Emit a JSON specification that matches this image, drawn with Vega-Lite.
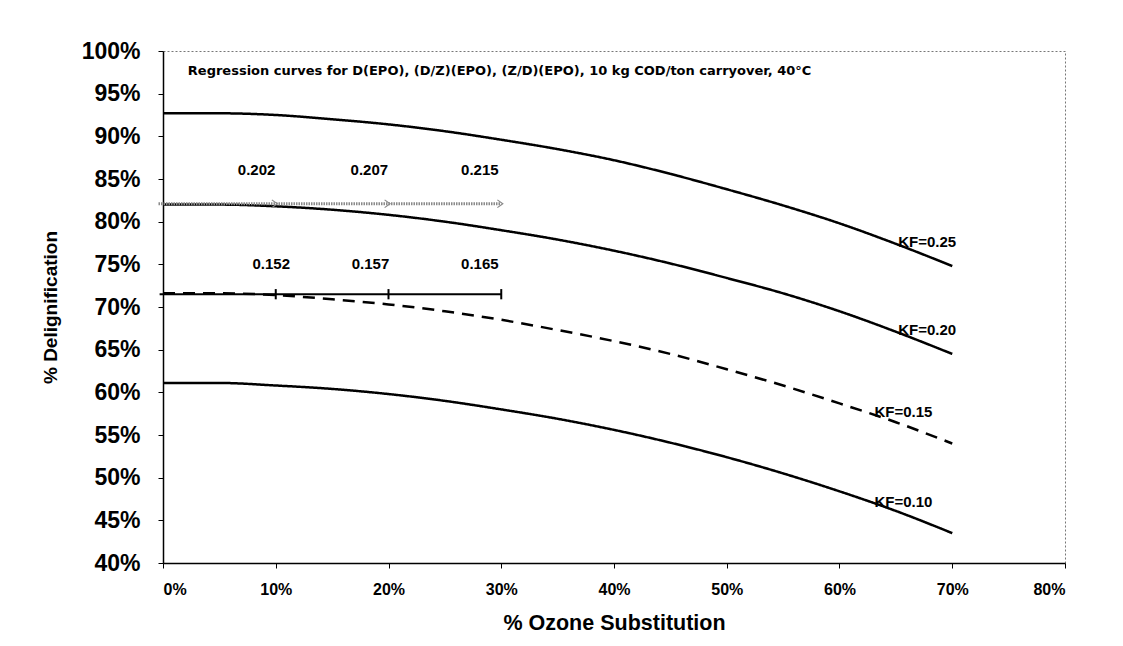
{
  "$schema": "https://vega.github.io/schema/vega-lite/v6.json",
  "width": 902,
  "height": 512,
  "autosize": {"type": "none"},
  "padding": {"left": 163, "top": 51, "right": 58, "bottom": 83},
  "background": "white",
  "config": {
    "font": "Liberation Sans",
    "view": {"stroke": "#777", "strokeDash": [2, 2], "strokeWidth": 1},
    "axis": {
      "domainColor": "black",
      "domainWidth": 1.5,
      "tickColor": "black",
      "tickSize": 5,
      "tickWidth": 1,
      "grid": false,
      "labelColor": "black",
      "titleColor": "black",
      "labelFont": "Liberation Sans",
      "titleFont": "Liberation Sans"
    }
  },
  "datasets": {
    "curves": [
      {"kf": "0.25", "x": 0.00, "y": 0.927}, {"kf": "0.25", "x": 0.05, "y": 0.927}, {"kf": "0.25", "x": 0.10, "y": 0.925},
      {"kf": "0.25", "x": 0.15, "y": 0.920}, {"kf": "0.25", "x": 0.20, "y": 0.914}, {"kf": "0.25", "x": 0.25, "y": 0.906},
      {"kf": "0.25", "x": 0.30, "y": 0.896}, {"kf": "0.25", "x": 0.35, "y": 0.885}, {"kf": "0.25", "x": 0.40, "y": 0.872},
      {"kf": "0.25", "x": 0.45, "y": 0.856}, {"kf": "0.25", "x": 0.50, "y": 0.838}, {"kf": "0.25", "x": 0.55, "y": 0.819},
      {"kf": "0.25", "x": 0.60, "y": 0.798}, {"kf": "0.25", "x": 0.65, "y": 0.774}, {"kf": "0.25", "x": 0.70, "y": 0.748},
      {"kf": "0.20", "x": 0.00, "y": 0.820}, {"kf": "0.20", "x": 0.05, "y": 0.820}, {"kf": "0.20", "x": 0.10, "y": 0.818},
      {"kf": "0.20", "x": 0.15, "y": 0.814}, {"kf": "0.20", "x": 0.20, "y": 0.808}, {"kf": "0.20", "x": 0.25, "y": 0.800},
      {"kf": "0.20", "x": 0.30, "y": 0.790}, {"kf": "0.20", "x": 0.35, "y": 0.779}, {"kf": "0.20", "x": 0.40, "y": 0.766},
      {"kf": "0.20", "x": 0.45, "y": 0.751}, {"kf": "0.20", "x": 0.50, "y": 0.734}, {"kf": "0.20", "x": 0.55, "y": 0.716},
      {"kf": "0.20", "x": 0.60, "y": 0.695}, {"kf": "0.20", "x": 0.65, "y": 0.671}, {"kf": "0.20", "x": 0.70, "y": 0.645},
      {"kf": "0.15", "x": 0.00, "y": 0.716}, {"kf": "0.15", "x": 0.05, "y": 0.716}, {"kf": "0.15", "x": 0.10, "y": 0.714},
      {"kf": "0.15", "x": 0.15, "y": 0.709}, {"kf": "0.15", "x": 0.20, "y": 0.703}, {"kf": "0.15", "x": 0.25, "y": 0.695},
      {"kf": "0.15", "x": 0.30, "y": 0.685}, {"kf": "0.15", "x": 0.35, "y": 0.673}, {"kf": "0.15", "x": 0.40, "y": 0.660},
      {"kf": "0.15", "x": 0.45, "y": 0.645}, {"kf": "0.15", "x": 0.50, "y": 0.627}, {"kf": "0.15", "x": 0.55, "y": 0.608},
      {"kf": "0.15", "x": 0.60, "y": 0.587}, {"kf": "0.15", "x": 0.65, "y": 0.565}, {"kf": "0.15", "x": 0.70, "y": 0.540},
      {"kf": "0.10", "x": 0.00, "y": 0.611}, {"kf": "0.10", "x": 0.05, "y": 0.611}, {"kf": "0.10", "x": 0.10, "y": 0.608},
      {"kf": "0.10", "x": 0.15, "y": 0.604}, {"kf": "0.10", "x": 0.20, "y": 0.598}, {"kf": "0.10", "x": 0.25, "y": 0.590},
      {"kf": "0.10", "x": 0.30, "y": 0.580}, {"kf": "0.10", "x": 0.35, "y": 0.569}, {"kf": "0.10", "x": 0.40, "y": 0.556},
      {"kf": "0.10", "x": 0.45, "y": 0.541}, {"kf": "0.10", "x": 0.50, "y": 0.524}, {"kf": "0.10", "x": 0.55, "y": 0.505},
      {"kf": "0.10", "x": 0.60, "y": 0.484}, {"kf": "0.10", "x": 0.65, "y": 0.461}, {"kf": "0.10", "x": 0.70, "y": 0.435}
    ],
    "grayRef": [
      {"x": -0.004, "y": 0.821}, {"x": 0.300, "y": 0.821}
    ],
    "blackRef": [
      {"x": -0.003, "y": 0.715}, {"x": 0.300, "y": 0.715}
    ],
    "blackTicks": [
      {"x": 0.10, "y": 0.709, "y2": 0.721},
      {"x": 0.20, "y": 0.709, "y2": 0.721},
      {"x": 0.30, "y": 0.709, "y2": 0.721}
    ],
    "chevrons": [
      {"x": 0.10, "y": 0.821}, {"x": 0.20, "y": 0.821}, {"x": 0.30, "y": 0.821}
    ],
    "valueLabels": [
      {"x": 0.083, "y": 0.860, "t": "0.202"},
      {"x": 0.183, "y": 0.860, "t": "0.207"},
      {"x": 0.281, "y": 0.860, "t": "0.215"},
      {"x": 0.096, "y": 0.750, "t": "0.152"},
      {"x": 0.184, "y": 0.750, "t": "0.157"},
      {"x": 0.281, "y": 0.750, "t": "0.165"}
    ],
    "kfLabels": [
      {"x": 0.652, "y": 0.776, "t": "KF=0.25"},
      {"x": 0.652, "y": 0.673, "t": "KF=0.20"},
      {"x": 0.631, "y": 0.577, "t": "KF=0.15"},
      {"x": 0.631, "y": 0.471, "t": "KF=0.10"}
    ],
    "note": [
      {"x": 0.022, "y": 0.977, "t": "Regression curves for D(EPO), (D/Z)(EPO), (Z/D)(EPO), 10 kg COD/ton carryover, 40°C"}
    ]
  },
  "encoding": {
    "x": {
      "field": "x", "type": "quantitative",
      "scale": {"domain": [0, 0.8], "nice": false, "zero": false},
      "axis": {
        "values": [0, 0.1, 0.2, 0.3, 0.4, 0.5, 0.6, 0.7, 0.8],
        "format": ".0%",
        "labelFontSize": 16,
        "labelFontWeight": "bold",
        "labelPadding": 13,
        "title": "% Ozone Substitution",
        "titleFontSize": 21.5,
        "titleFontWeight": "bold",
        "titlePadding": 15
      }
    },
    "y": {
      "field": "y", "type": "quantitative",
      "scale": {"domain": [0.4, 1.0], "nice": false, "zero": false},
      "axis": {
        "values": [0.4, 0.45, 0.5, 0.55, 0.6, 0.65, 0.7, 0.75, 0.8, 0.85, 0.9, 0.95, 1.0],
        "format": ".0%",
        "labelFontSize": 23,
        "labelFontWeight": "bold",
        "labelPadding": 18,
        "title": "% Delignification",
        "titleFontSize": 19,
        "titleFontWeight": "bold",
        "titlePadding": 21
      }
    }
  },
  "layer": [
    {
      "data": {"name": "curves"},
      "mark": {"type": "line", "interpolate": "monotone", "color": "black", "strokeWidth": 2.5},
      "encoding": {
        "detail": {"field": "kf", "type": "nominal"},
        "strokeDash": {
          "field": "kf", "type": "nominal",
          "scale": {"domain": ["0.25", "0.20", "0.15", "0.10"], "range": [[1, 0], [1, 0], [12, 8], [1, 0]]},
          "legend": null
        }
      }
    },
    {
      "data": {"name": "grayRef"},
      "mark": {"type": "line", "color": "#8a8a8a", "strokeWidth": 3, "strokeDash": [1.5, 1], "clip": false},
      "encoding": {}
    },
    {
      "data": {"name": "chevrons"},
      "mark": {"type": "point", "shape": "M-1,-1L0.4,0L-1,1", "filled": false, "color": "#8a8a8a", "strokeWidth": 1.2, "size": 60, "opacity": 1},
      "encoding": {}
    },
    {
      "data": {"name": "blackRef"},
      "mark": {"type": "line", "color": "black", "strokeWidth": 2, "clip": false},
      "encoding": {}
    },
    {
      "data": {"name": "blackTicks"},
      "mark": {"type": "rule", "color": "black", "strokeWidth": 2},
      "encoding": {"y2": {"field": "y2"}}
    },
    {
      "data": {"name": "valueLabels"},
      "mark": {"type": "text", "font": "Liberation Sans", "fontSize": 15, "fontWeight": "bold", "color": "black", "align": "center", "baseline": "middle"},
      "encoding": {"text": {"field": "t"}}
    },
    {
      "data": {"name": "kfLabels"},
      "mark": {"type": "text", "font": "Liberation Sans", "fontSize": 15, "fontWeight": "bold", "color": "black", "align": "left", "baseline": "middle"},
      "encoding": {"text": {"field": "t"}}
    },
    {
      "data": {"name": "note"},
      "mark": {"type": "text", "font": "DejaVu Sans", "fontSize": 13, "fontWeight": "bold", "color": "black", "align": "left", "baseline": "middle"},
      "encoding": {"text": {"field": "t"}}
    }
  ]
}
